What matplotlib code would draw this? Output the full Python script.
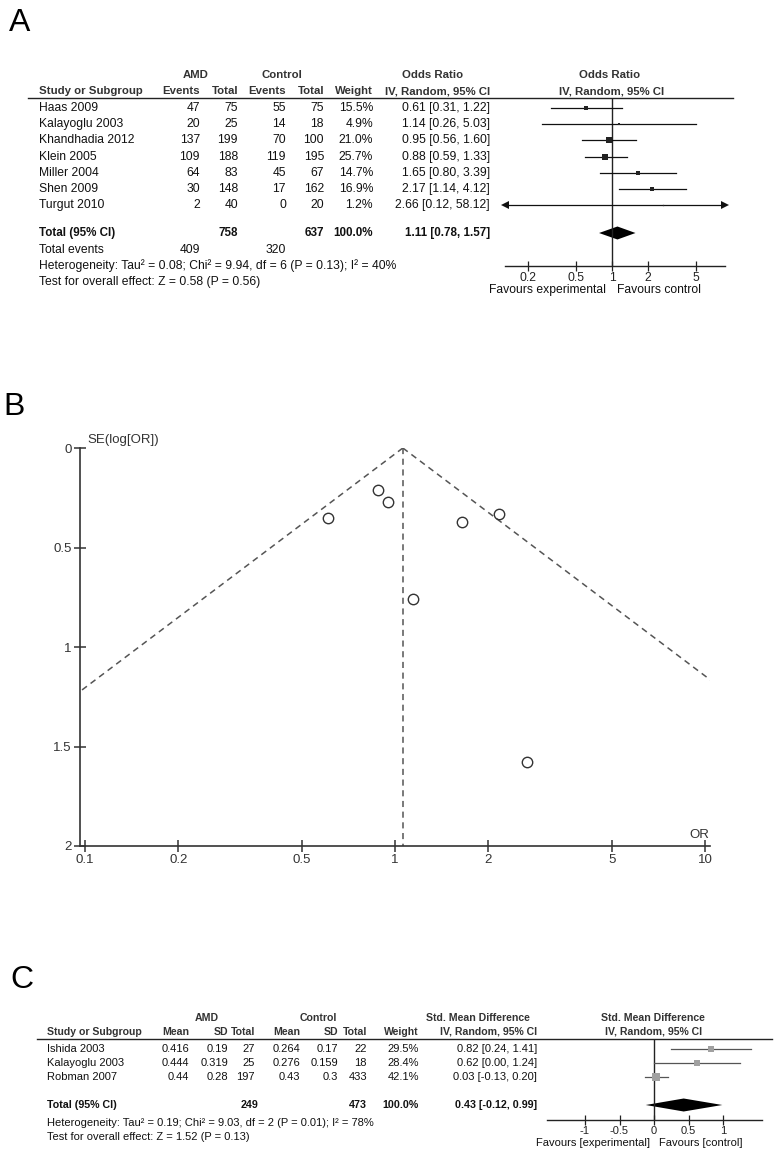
import numpy as np
import matplotlib
matplotlib.use("Agg")
import matplotlib.pyplot as plt
from matplotlib.lines import Line2D

plt.rcParams['font.family'] = ['Liberation Sans', 'DejaVu Sans']

W, H = 778, 1155

# ---- Panel A: odds ratio forest plot ----
a_studies = ['Haas 2009', 'Kalayoglu 2003', 'Khandhadia 2012', 'Klein 2005',
             'Miller 2004', 'Shen 2009', 'Turgut 2010']
a_amd_events = [47, 20, 137, 109, 64, 30, 2]
a_amd_total = [75, 25, 199, 188, 83, 148, 40]
a_ctl_events = [55, 14, 70, 119, 45, 17, 0]
a_ctl_total = [75, 18, 100, 195, 67, 162, 20]
a_weight = [15.5, 4.9, 21.0, 25.7, 14.7, 16.9, 1.2]
a_or = [0.61, 1.14, 0.95, 0.88, 1.65, 2.17, 2.66]
a_lo = [0.31, 0.26, 0.56, 0.59, 0.80, 1.14, 0.12]
a_hi = [1.22, 5.03, 1.60, 1.33, 3.39, 4.12, 58.12]
a_total = (1.11, 0.78, 1.57)
a_sum_n = (758, 637)
a_sum_events = (409, 320)
a_ticks = [0.2, 0.5, 1, 2, 5]

# ---- Panel B: funnel plot ----
b_or = [0.61, 1.14, 0.95, 0.88, 1.65, 2.17, 2.66]
b_se = [0.35, 0.76, 0.27, 0.21, 0.37, 0.33, 1.58]
b_pooled = 1.06
b_xticks = [0.1, 0.2, 0.5, 1, 2, 5, 10]
b_yticks = [0, 0.5, 1, 1.5, 2]

# ---- Panel C: std. mean difference forest plot ----
c_studies = ['Ishida 2003', 'Kalayoglu 2003', 'Robman 2007']
c_amd_mean = [0.416, 0.444, 0.44]
c_amd_sd = [0.19, 0.319, 0.28]
c_amd_total = [27, 25, 197]
c_ctl_mean = [0.264, 0.276, 0.43]
c_ctl_sd = [0.17, 0.159, 0.3]
c_ctl_total = [22, 18, 433]
c_weight = [29.5, 28.4, 42.1]
c_smd = [0.82, 0.62, 0.03]
c_lo = [0.24, 0.00, -0.13]
c_hi = [1.41, 1.24, 0.20]
c_total = (0.43, -0.12, 0.99)
c_sum_n = (249, 473)
c_ticks = [-1, -0.5, 0, 0.5, 1]

fig = plt.figure(figsize=(W / 100, H / 100), dpi=100)


def txt(x, y, s, ha='left', size=8.7, bold=False, color='#111111'):
    fig.text(x / W, 1 - y / H, s, ha=ha, va='center', fontsize=size,
             fontweight='bold' if bold else 'normal', color=color)


def hline(x0, x1, y, color='#222222', lw=1.0):
    fig.add_artist(Line2D([x0 / W, x1 / W], [1 - y / H, 1 - y / H],
                          color=color, lw=lw, transform=fig.transFigure))


def add_ax(left, top, right, bottom):
    ax = fig.add_axes([left / W, 1 - bottom / H, (right - left) / W, (bottom - top) / H])
    ax.patch.set_alpha(0)
    return ax


def forest_axis(ax, ticks, labels, size):
    for s in ['top', 'left', 'right']:
        ax.spines[s].set_visible(False)
    ax.spines['bottom'].set_color('#222222')
    ax.spines['bottom'].set_linewidth(1.0)
    ax.set_yticks([])
    ax.set_xticks(ticks)
    ax.set_xticklabels(labels)
    ax.xaxis.set_minor_locator(matplotlib.ticker.NullLocator())
    ax.tick_params(axis='x', direction='inout', length=7, width=0.9,
                   labelsize=size, pad=1, colors='#222222')


# ================= Panel A =================
txt(9, 23, 'A', size=23, color='black')
fa = 8.7
fah = 8.2
txt(196, 75, 'AMD', ha='center', size=fah, bold=True, color='#333333')
txt(282, 75, 'Control', ha='center', size=fah, bold=True, color='#333333')
txt(433, 75, 'Odds Ratio', ha='center', size=fah, bold=True, color='#333333')
txt(610, 75, 'Odds Ratio', ha='center', size=fah, bold=True, color='#333333')
y2 = 91
txt(39, y2, 'Study or Subgroup', size=fah, bold=True, color='#333333')
for x, s in zip([200, 238, 286, 324, 373], ['Events', 'Total', 'Events', 'Total', 'Weight']):
    txt(x, y2, s, ha='right', size=fah, bold=True, color='#333333')
txt(490, y2, 'IV, Random, 95% CI', ha='right', size=fah, bold=True, color='#333333')
txt(612, y2, 'IV, Random, 95% CI', ha='center', size=fah, bold=True, color='#333333')
hline(28, 733, 98)

a_rows = [108 + 16.2 * i for i in range(len(a_studies))]
for i, y in enumerate(a_rows):
    txt(39, y, a_studies[i], size=fa)
    txt(200, y, str(a_amd_events[i]), ha='right', size=fa)
    txt(238, y, str(a_amd_total[i]), ha='right', size=fa)
    txt(286, y, str(a_ctl_events[i]), ha='right', size=fa)
    txt(324, y, str(a_ctl_total[i]), ha='right', size=fa)
    txt(373, y, f'{a_weight[i]:.1f}%', ha='right', size=fa)
    txt(490, y, f'{a_or[i]:.2f} [{a_lo[i]:.2f}, {a_hi[i]:.2f}]', ha='right', size=fa)

ya_tot = 233
fab = 8.4
txt(39, ya_tot, 'Total (95% CI)', size=fab, bold=True)
txt(238, ya_tot, str(a_sum_n[0]), ha='right', size=fab, bold=True)
txt(324, ya_tot, str(a_sum_n[1]), ha='right', size=fab, bold=True)
txt(373, ya_tot, '100.0%', ha='right', size=fab, bold=True)
txt(490, ya_tot, f'{a_total[0]:.2f} [{a_total[1]:.2f}, {a_total[2]:.2f}]', ha='right', size=fab, bold=True)
txt(39, 250, 'Total events', size=fa)
txt(200, 250, str(a_sum_events[0]), ha='right', size=fa)
txt(286, 250, str(a_sum_events[1]), ha='right', size=fa)
txt(39, 266, 'Heterogeneity: Tau\u00b2 = 0.08; Chi\u00b2 = 9.94, df = 6 (P = 0.13); I\u00b2 = 40%', size=fa)
txt(39, 282, 'Test for overall effect: Z = 0.58 (P = 0.56)', size=fa)

axa = add_ax(505, 98, 725, 266)
axa.set_xscale('log')
axa.set_xlim(10 ** (-107 / 120), 10 ** (113 / 120))
axa.set_ylim(266, 98)
forest_axis(axa, a_ticks, [str(t) for t in a_ticks], fa)
axa.axvline(1, color='#222222', lw=1.0)
x0, x1 = axa.get_xlim()
for i, y in enumerate(a_rows):
    axa.plot([a_lo[i], a_hi[i]], [y, y], color='#111111', lw=0.9)
    axa.plot(a_or[i], y, 's', ms=0.85 * np.sqrt(a_weight[i]), color='#222222', mew=0)
    if a_lo[i] < x0:
        axa.plot(x0, y, '<', ms=5.5, color='#111111', clip_on=False, mew=0)
    if a_hi[i] > x1:
        axa.plot(x1, y, '>', ms=5.5, color='#111111', clip_on=False, mew=0)
e, lo, hi = a_total
axa.fill([lo, e, hi, e], [ya_tot, ya_tot - 6.5, ya_tot, ya_tot + 6.5], color='black', lw=0)
txt(606, 290, 'Favours experimental', ha='right', size=fa)
txt(617, 290, 'Favours control', ha='left', size=fa)

# ================= Panel B =================
txt(3, 407, 'B', size=23, color='black')
fb = 9.5
axb = add_ax(80, 448, 710, 846)
axb.set_xscale('log')
axb.set_xlim(10 ** (-1 - 5 / 310), 10 ** (1 + 5 / 310))
axb.set_ylim(2, 0)
for s in ['top', 'right']:
    axb.spines[s].set_visible(False)
for s in ['left', 'bottom']:
    axb.spines[s].set_color('#333333')
    axb.spines[s].set_linewidth(1.2)
axb.set_xticks(b_xticks)
axb.set_xticklabels([str(t) for t in b_xticks])
axb.xaxis.set_minor_locator(matplotlib.ticker.NullLocator())
axb.set_yticks(b_yticks)
axb.set_yticklabels([f'{t:g}' for t in b_yticks])
axb.tick_params(direction='inout', length=8, width=1.1, labelsize=fb,
                colors='#333333', pad=2)

se_line = np.array([0, 2.2])
dash = dict(color='#555555', lw=1.1, dashes=(4, 3))
axb.plot(b_pooled * np.exp(-1.96 * se_line), se_line, **dash)
axb.plot(b_pooled * np.exp(1.96 * se_line), se_line, **dash)
axb.plot([b_pooled, b_pooled], [0, 2], **dash)
axb.plot(b_or, b_se, 'o', ms=7.5, mfc='none', mec='#333333', mew=1.0)
txt(87, 440, 'SE(log[OR])', size=fb, color='#333333')
txt(709, 835, 'OR', ha='right', size=fb, color='#333333')

# ================= Panel C =================
txt(10, 980, 'C', size=23, color='black')
fc = 8.0
fch = 7.6
txt(207, 1018, 'AMD', ha='center', size=fch, bold=True, color='#333333')
txt(318, 1018, 'Control', ha='center', size=fch, bold=True, color='#333333')
txt(478, 1018, 'Std. Mean Difference', ha='center', size=fch, bold=True, color='#333333')
txt(653, 1018, 'Std. Mean Difference', ha='center', size=fch, bold=True, color='#333333')
yc2 = 1032
txt(47, yc2, 'Study or Subgroup', size=fch, bold=True, color='#333333')
c_cols = [189, 228, 255, 300, 338, 367, 419]
for x, s in zip(c_cols, ['Mean', 'SD', 'Total', 'Mean', 'SD', 'Total', 'Weight']):
    txt(x, yc2, s, ha='right', size=fch, bold=True, color='#333333')
txt(537, yc2, 'IV, Random, 95% CI', ha='right', size=fch, bold=True, color='#333333')
txt(654, yc2, 'IV, Random, 95% CI', ha='center', size=fch, bold=True, color='#333333')
hline(37, 772, 1039)

c_rows = [1049 + 14 * i for i in range(len(c_studies))]
for i, y in enumerate(c_rows):
    txt(47, y, c_studies[i], size=fc)
    vals = [c_amd_mean[i], c_amd_sd[i], c_amd_total[i], c_ctl_mean[i], c_ctl_sd[i],
            c_ctl_total[i], f'{c_weight[i]:.1f}%']
    for x, v in zip(c_cols, vals):
        txt(x, y, str(v), ha='right', size=fc)
    txt(537, y, f'{c_smd[i]:.2f} [{c_lo[i]:.2f}, {c_hi[i]:.2f}]', ha='right', size=fc)

yc_tot = 1105
fcb = 7.7
txt(47, yc_tot, 'Total (95% CI)', size=fcb, bold=True)
txt(258, yc_tot, str(c_sum_n[0]), ha='right', size=fcb, bold=True)
txt(367, yc_tot, str(c_sum_n[1]), ha='right', size=fcb, bold=True)
txt(419, yc_tot, '100.0%', ha='right', size=fcb, bold=True)
txt(537, yc_tot, f'{c_total[0]:.2f} [{c_total[1]:.2f}, {c_total[2]:.2f}]', ha='right', size=fcb, bold=True)
txt(47, 1123, 'Heterogeneity: Tau\u00b2 = 0.19; Chi\u00b2 = 9.03, df = 2 (P = 0.01); I\u00b2 = 78%', size=fc)
txt(47, 1137, 'Test for overall effect: Z = 1.52 (P = 0.13)', size=fc)

axc = add_ax(547, 1039, 762, 1120)
axc.set_xlim(-107 / 69, 108 / 69)
axc.set_ylim(1120, 1039)
forest_axis(axc, c_ticks, [f'{t:g}'.replace('\u2212', '-') for t in c_ticks], fc)
axc.axvline(0, color='#222222', lw=1.0)
for i, y in enumerate(c_rows):
    axc.plot([c_lo[i], c_hi[i]], [y, y], color='#555555', lw=0.9)
    axc.plot(c_smd[i], y, 's', ms=0.85 * np.sqrt(c_weight[i]), color='#a0a0a0', mew=0)
e, lo, hi = c_total
axc.fill([lo, e, hi, e], [yc_tot, yc_tot - 6.5, yc_tot, yc_tot + 6.5], color='black', lw=0)
txt(650, 1143, 'Favours [experimental]', ha='right', size=fc)
txt(659, 1143, 'Favours [control]', ha='left', size=fc)

fig.savefig('out.png', dpi=100)
